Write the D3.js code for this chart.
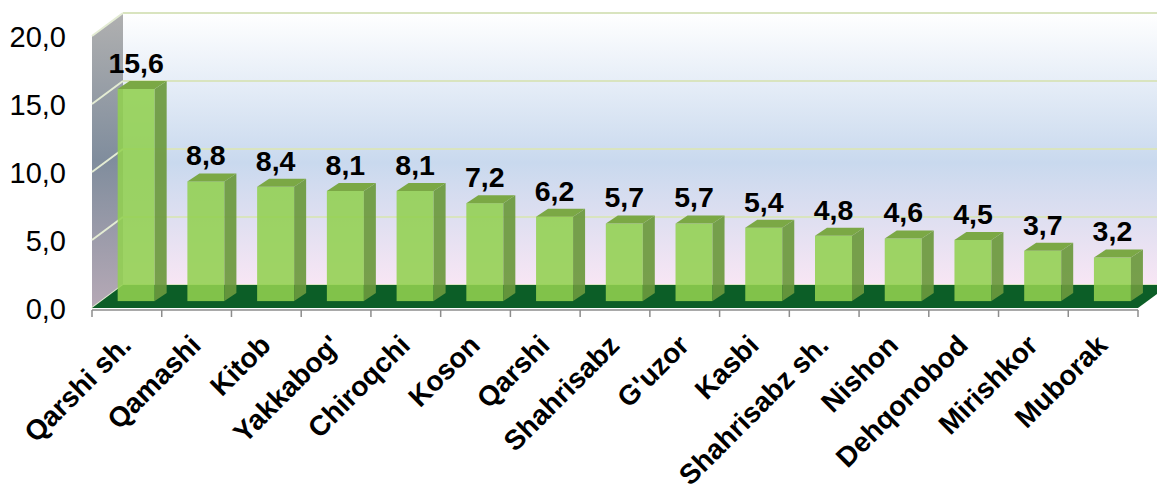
<!DOCTYPE html>
<html>
<head>
<meta charset="utf-8">
<script src="https://cdn.jsdelivr.net/npm/d3@7"></script>
<style>
  html, body { margin: 0; padding: 0; background: #fff; }
  text { font-family: "Liberation Sans", Arial, sans-serif; }
</style>
</head>
<body>
<div id="chart"></div>
<script>
var categories = ['Qarshi sh.', 'Qamashi', 'Kitob', "Yakkabog'", 'Chiroqchi', 'Koson', 'Qarshi',
  'Shahrisabz', "G'uzor", 'Kasbi', 'Shahrisabz sh.', 'Nishon', 'Dehqonobod', 'Mirishkor', 'Muborak'];
var values = [15.6, 8.8, 8.4, 8.1, 8.1, 7.2, 6.2, 5.7, 5.7, 5.4, 4.8, 4.6, 4.5, 3.7, 3.2];
var yTicks = [0, 5, 10, 15, 20];

var width = 1157, height = 487;
var svg = d3.select('#chart').append('svg')
  .attr('width', width)
  .attr('height', height);

// depth of the 3d box
var depthX = 31, depthY = -23;
var x = d3.scaleBand().domain(categories).range([92, 1138]).padding(0);
var y = d3.scaleLinear().domain([0, 20]).range([308, 36]);

var fmt = function (v) { return d3.format('.1f')(v).replace('.', ','); };

var defs = svg.append('defs');
var wallGrad = defs.append('linearGradient').attr('id', 'wall')
  .attr('x1', 0).attr('y1', 0).attr('x2', 0).attr('y2', 1);
wallGrad.append('stop').attr('offset', '0%').attr('stop-color', '#ffffff');
wallGrad.append('stop').attr('offset', '55%').attr('stop-color', '#c9d9ee');
wallGrad.append('stop').attr('offset', '100%').attr('stop-color', '#f8e6f4');

var sideGrad = defs.append('linearGradient').attr('id', 'side')
  .attr('x1', 0).attr('y1', 0).attr('x2', 0).attr('y2', 1);
sideGrad.append('stop').attr('offset', '0%').attr('stop-color', '#b0b0b0');
sideGrad.append('stop').attr('offset', '50%').attr('stop-color', '#808d9d');
sideGrad.append('stop').attr('offset', '100%').attr('stop-color', '#b6a9b6');

// back wall
svg.append('rect')
  .attr('x', 92 + depthX)
  .attr('y', y(20) + depthY)
  .attr('width', 1138 - 92 + 10)
  .attr('height', y(0) - y(20))
  .attr('fill', 'url(#wall)');

// side wall
svg.append('path')
  .attr('d', 'M' + 92 + ',' + y(20) + 'L' + (92 + depthX) + ',' + (y(20) + depthY) +
    'L' + (92 + depthX) + ',' + (y(0) + depthY) + 'L' + 92 + ',' + y(0) + 'Z')
  .attr('fill', 'url(#side)');

// gridlines
yTicks.forEach(function (t) {
  svg.append('line')
    .attr('x1', 92 + depthX).attr('x2', width)
    .attr('y1', y(t) + depthY).attr('y2', y(t) + depthY)
    .attr('stroke', '#d9e4bf').attr('stroke-width', 2);
  svg.append('line')
    .attr('x1', 92).attr('x2', 92 + depthX)
    .attr('y1', y(t)).attr('y2', y(t) + depthY)
    .attr('stroke', '#e4ecd4').attr('stroke-width', 2);
});

// floor
svg.append('path')
  .attr('d', 'M92,' + y(0) + 'L1138,' + y(0) + 'L' + (1138 + depthX) + ',' + (y(0) + depthY) +
    'L' + (92 + depthX) + ',' + (y(0) + depthY) + 'Z')
  .attr('fill', '#0c5e27');

// axis line and ticks
svg.append('line')
  .attr('x1', 92).attr('x2', 1138)
  .attr('y1', 310).attr('y2', 310)
  .attr('stroke', '#8c8c8c').attr('stroke-width', 1.5);
d3.range(categories.length + 1).forEach(function (i) {
  var tx = 92 + i * x.bandwidth();
  svg.append('line')
    .attr('x1', tx).attr('x2', tx)
    .attr('y1', 310).attr('y2', 317)
    .attr('stroke', '#8c8c8c').attr('stroke-width', 1.5);
});

// y labels
svg.selectAll('text.ytick').data(yTicks).enter().append('text')
  .attr('class', 'ytick')
  .attr('x', 66)
  .attr('y', function (d) { return y(d) + 11; })
  .attr('text-anchor', 'end')
  .attr('font-size', 29)
  .attr('fill', '#000')
  .text(fmt);

// bars
var barW = 37, barDX = 12, barDY = -8;
var offX = 9.3, offY = -6.9;
var bars = svg.selectAll('g.bar').data(values).enter().append('g').attr('class', 'bar');

function cx(i) { return x(categories[i]) + x.bandwidth() / 2; }

bars.each(function (v, i) {
  var g = d3.select(this);
  var x0 = cx(i) + offX - barW / 2, x1 = x0 + barW;
  var yt = y(v) + offY, yb = y(0) + offY;
  g.append('rect')
    .attr('x', x0).attr('y', yt)
    .attr('width', barW).attr('height', yb - yt)
    .attr('fill', '#92d050').attr('fill-opacity', 0.88);
  g.append('path')
    .attr('d', 'M' + x1 + ',' + yt + 'L' + (x1 + barDX) + ',' + (yt + barDY) +
      'L' + (x1 + barDX) + ',' + (yb + barDY) + 'L' + x1 + ',' + yb + 'Z')
    .attr('fill', '#6b993d').attr('fill-opacity', 0.92);
  g.append('path')
    .attr('d', 'M' + x0 + ',' + yt + 'L' + x1 + ',' + yt + 'L' + (x1 + barDX) + ',' + (yt + barDY) +
      'L' + (x0 + barDX) + ',' + (yt + barDY) + 'Z')
    .attr('fill', '#7ba845');
  g.append('text')
    .attr('x', cx(i) + offX)
    .attr('y', y(v) - 23)
    .attr('text-anchor', 'middle')
    .attr('font-size', 28.5)
    .attr('font-weight', 'bold')
    .attr('fill', '#000')
    .text(fmt(v));
});

// x labels
svg.selectAll('text.xlab').data(categories).enter().append('text')
  .attr('class', 'xlab')
  .attr('text-anchor', 'end')
  .attr('font-size', 28)
  .attr('font-weight', 'bold')
  .attr('fill', '#000')
  .attr('transform', function (d, i) {
    return 'translate(' + (cx(i) + 6) + ',347) rotate(-45)';
  })
  .text(function (d) { return d; });
</script>
</body>
</html>
